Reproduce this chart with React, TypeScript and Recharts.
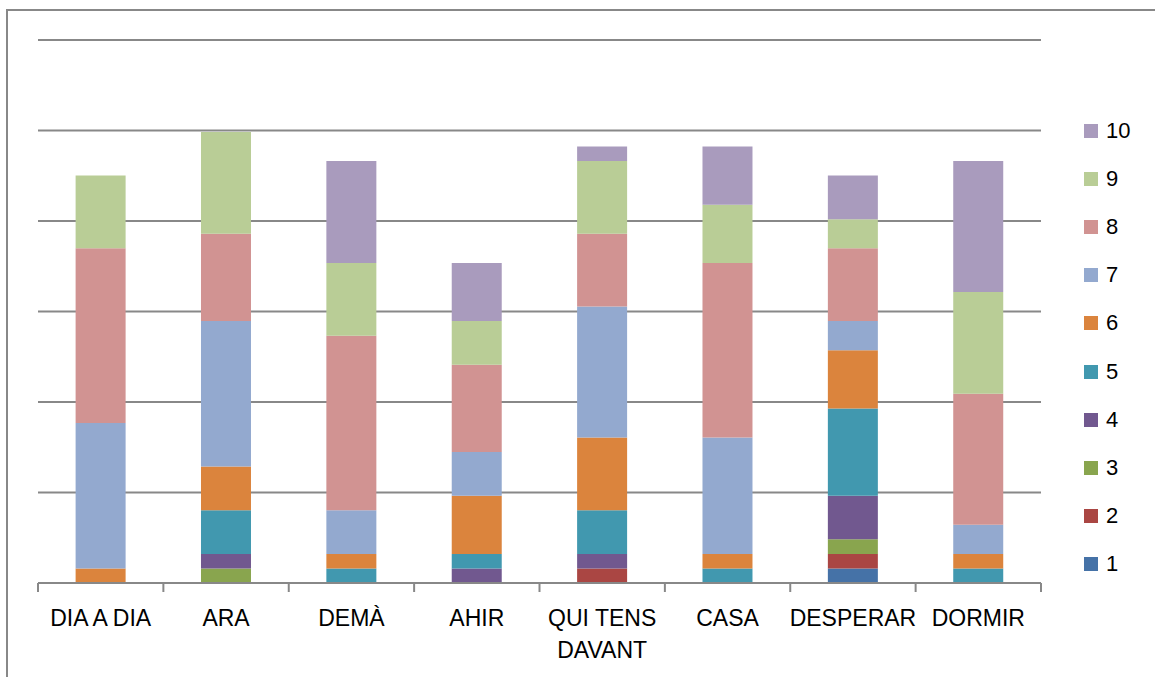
import React from 'react';
import { BarChart, Bar, XAxis, YAxis, CartesianGrid } from 'recharts';

const categories = ['DIA A DIA', 'ARA', 'DEMÀ', 'AHIR', 'QUI TENS DAVANT', 'CASA', 'DESPERAR', 'DORMIR'];
const seriesNames = ['1', '2', '3', '4', '5', '6', '7', '8', '9', '10'];
const s1 = [0, 0, 0, 0, 0, 0, 1, 0];
const s2 = [0, 0, 0, 0, 1, 0, 1, 0];
const s3 = [0, 1, 0, 0, 0, 0, 1, 0];
const s4 = [0, 1, 0, 1, 1, 0, 3, 0];
const s5 = [0, 3, 1, 1, 3, 1, 6, 1];
const s6 = [1, 3, 1, 4, 5, 1, 4, 1];
const s7 = [10, 10, 3, 3, 9, 8, 2, 2];
const s8 = [12, 6, 12, 6, 5, 12, 5, 9];
const s9 = [5, 7, 5, 3, 5, 4, 2, 7];
const s10 = [0, 0, 7, 4, 1, 4, 3, 9];
const seriesValues = [s1, s2, s3, s4, s5, s6, s7, s8, s9, s10];
const colors = ['#4572A7', '#AA4643', '#89A54E', '#71588F', '#4198AF', '#DB843D', '#93A9CF', '#D19392', '#B9CD96', '#A99BBD'];

const Y_MAX = 37.32;
const yTicks = [0, 1, 2, 3, 4, 5, 6].map((i) => (i * Y_MAX) / 6);

const data = categories.map((c, i) => {
  const row: Record<string, any> = { name: c };
  seriesNames.forEach((s, k) => {
    row[s] = seriesValues[k][i];
  });
  return row;
});

const W = 1155;
const H = 677;
const margin = { top: 40, right: 114, left: 38, bottom: 34 };
const X_AXIS_H = 60;
const BAND = (W - margin.left - margin.right) / categories.length;
const FONT = '"Liberation Sans", Arial, sans-serif';
const GRID = '#888888';

function wrap(label: string, maxChars: number): string[] {
  const words = label.split(' ');
  const lines: string[] = [];
  let cur = '';
  words.forEach((w) => {
    const next = cur ? cur + ' ' + w : w;
    if (next.length > maxChars && cur) {
      lines.push(cur);
      cur = w;
    } else {
      cur = next;
    }
  });
  if (cur) lines.push(cur);
  return lines;
}

const CategoryTick = (props: any) => {
  const { x, y, payload, index } = props;
  const lines = wrap(String(payload.value), 10);
  const left = x - BAND / 2;
  const right = x + BAND / 2;
  return (
    <g>
      <line x1={left} y1={y} x2={left} y2={y + 9} stroke={GRID} strokeWidth={2} />
      {index === categories.length - 1 && (
        <line x1={right} y1={y} x2={right} y2={y + 9} stroke={GRID} strokeWidth={2} />
      )}
      <text x={x} y={y + 43} textAnchor="middle" fill="#000" fontFamily={FONT} fontSize={23}>
        {lines.map((l, i) => (
          <tspan key={i} x={x} dy={i === 0 ? 0 : 32}>
            {l}
          </tspan>
        ))}
      </text>
    </g>
  );
};

const LegendBox = () => (
  <div style={{ position: 'absolute', left: 1084, top: 107, fontFamily: FONT, fontSize: 22, color: '#000' }}>
    {seriesNames
      .map((s, k) => ({ s, c: colors[k] }))
      .reverse()
      .map((it) => (
        <div key={it.s} style={{ height: 48.1, display: 'flex', alignItems: 'center' }}>
          <span style={{ width: 14, height: 14, background: it.c, display: 'inline-block', marginRight: 8 }} />
          <span style={{ lineHeight: '22px' }}>{it.s}</span>
        </div>
      ))}
  </div>
);

export default function App() {
  return (
    <div style={{ position: 'absolute', left: 0, top: 0, width: W, height: H, background: '#fff', overflow: 'hidden' }}>
      <div
        style={{
          position: 'absolute',
          left: 6,
          top: 9,
          width: W,
          height: H,
          borderTop: '2px solid #888888',
          borderLeft: '2px solid #888888',
        }}
      />
      <BarChart width={W} height={H} data={data} margin={margin} barCategoryGap="30%">
        <CartesianGrid vertical={false} stroke={GRID} strokeWidth={2} />
        <YAxis hide width={0} domain={[0, Y_MAX]} ticks={yTicks} type="number" allowDataOverflow />
        <XAxis
          dataKey="name"
          height={X_AXIS_H}
          interval={0}
          tickLine={false}
          tickSize={0}
          tickMargin={0}
          axisLine={{ stroke: GRID, strokeWidth: 2 }}
          tick={<CategoryTick />}
        />
        {seriesNames.map((s, k) => (
          <Bar key={s} dataKey={s} stackId="a" fill={colors[k]} isAnimationActive={false} />
        ))}
      </BarChart>
      <LegendBox />
    </div>
  );
}
